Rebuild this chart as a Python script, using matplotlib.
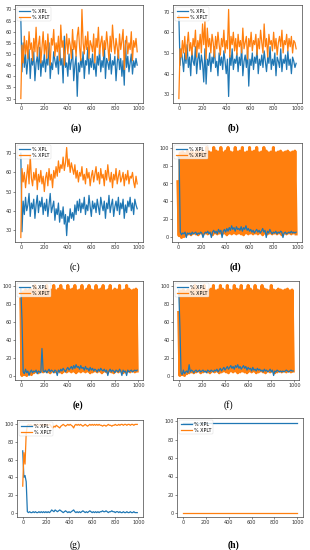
import numpy as np
import matplotlib
matplotlib.use("Agg")
import matplotlib.pyplot as plt

# iteration index (one sample every 10 steps)
steps = np.arange(0, 1000, 10)

a_xpl = [66, 42, 55, 44, 50, 41, 47, 52, 39, 48,
         45, 51, 38, 46, 49, 43, 53, 40, 47, 44,
         50, 42, 48, 45, 55, 39, 46, 43, 51, 47,
         44, 49, 41, 53, 45, 48, 37, 58, 44, 46,
         40, 50, 43, 47, 52, 38, 45, 49, 31, 46,
         42, 48, 44, 51, 39, 47, 45, 53, 41, 48,
         44, 50, 43, 46, 40, 49, 45, 52, 42, 47,
         44, 55, 39, 48, 46, 43, 50, 41, 47, 45,
         49, 38, 46, 51, 43, 48, 40, 47, 36, 56,
         44, 49, 42, 46, 50, 41, 47, 44, 48, 45]
a_xplt = [30, 54, 46, 58, 50, 56, 48, 60, 52, 55,
          47, 57, 51, 62, 49, 54, 58, 46, 53, 60,
          50, 56, 48, 59, 52, 45, 57, 54, 61, 49,
          55, 51, 58, 47, 63, 53, 56, 45, 52, 59,
          50, 57, 54, 48, 61, 52, 56, 49, 58, 62,
          53, 47, 70, 55, 50, 58, 52, 60, 48, 56,
          54, 51, 59, 46, 57, 53, 62, 50, 55, 58,
          49, 56, 52, 60, 54, 47, 58, 51, 63, 55,
          50, 57, 53, 48, 59, 52, 56, 61, 43, 54,
          58, 50, 55, 52, 60, 47, 56, 53, 57, 51]

b_xpl = [68, 44, 52, 47, 41, 50, 45, 54, 43, 48,
         39, 51, 46, 44, 53, 40, 47, 50, 42, 49,
         45, 36, 52, 35, 47, 44, 50, 41, 48, 45,
         53, 43, 46, 39, 50, 44, 48, 42, 51, 46,
         40, 47, 29, 49, 44, 52, 42, 47, 45, 50,
         41, 48, 44, 53, 39, 46, 49, 43, 51, 34,
         47, 44, 50, 42, 48, 45, 52, 40, 47, 44,
         49, 43, 51, 46, 41, 48, 45, 53, 42, 47,
         44, 50, 39, 48, 46, 43, 52, 41, 47, 45,
         49, 42, 51, 44, 47, 40, 48, 46, 43, 45]
b_xplt = [28, 52, 48, 56, 50, 58, 47, 54, 60, 51,
          55, 49, 57, 53, 61, 48, 56, 52, 59, 50,
          64, 54, 65, 47, 62, 53, 57, 50, 59, 55,
          48, 58, 52, 60, 54, 49, 57, 53, 61, 50,
          56, 52, 71, 48, 58, 54, 60, 51, 57, 49,
          59, 53, 56, 50, 62, 52, 55, 58, 47, 57,
          53, 60, 51, 56, 54, 59, 49, 57, 52, 61,
          55, 50, 64, 53, 57, 48, 59, 54, 56, 51,
          60, 52, 57, 49, 55, 58, 53, 61, 50, 56,
          54, 59, 51, 57, 53, 58, 50, 56, 55, 52]

c_xpl = [70, 29, 45, 38, 47, 40, 43, 49, 37, 44,
         41, 46, 36, 43, 48, 39, 45, 42, 47, 38,
         44, 40, 46, 37, 43, 49, 39, 42, 45, 35,
         41, 38, 44, 34, 40, 36, 42, 33, 38, 27,
         37, 34, 41, 36, 39, 35, 43, 38, 45, 40,
         46, 39, 44, 41, 47, 38, 43, 40, 48, 42,
         37, 45, 41, 44, 39, 46, 42, 38, 47, 43,
         40, 45, 36, 44, 41, 48, 39, 43, 46, 37,
         42, 45, 40, 47, 38, 44, 41, 46, 36, 43,
         39, 45, 42, 47, 40, 44, 38, 46, 43, 41]
c_xplt = [26, 62, 55, 60, 52, 58, 64, 54, 69, 57,
          53, 60, 56, 62, 51, 59, 55, 61, 54, 58,
          50, 57, 60, 53, 62, 56, 59, 52, 61, 57,
          63, 58, 66, 60, 64, 62, 68, 61, 65, 73,
          63, 67, 60, 65, 62, 59, 64, 57, 61, 55,
          60, 58, 63, 56, 59, 54, 62, 57, 60, 53,
          58, 61, 55, 59, 63, 56, 60, 54, 62, 57,
          59, 53, 61, 56, 64, 58, 55, 60, 52, 59,
          56, 62, 54, 58, 61, 55, 57, 60, 53, 59,
          56, 61, 54, 58, 57, 60, 55, 52, 58, 54]

d_xpl = [90, 88, 6, 3, 5, 4, 6, 0, 5, 4,
         5, 3, 6, 4, 5, 6, 3, 5, 4, 6,
         5, 0, 4, 6, 5, 7, 4, 6, 0, 6,
         8, 5, 7, 4, 9, 6, 8, 0, 7, 9,
         6, 10, 7, 11, 8, 13, 9, 11, 7, 12,
         9, 10, 8, 12, 7, 11, 9, 13, 8, 10,
         7, 9, 6, 8, 5, 7, 9, 6, 8, 5,
         7, 10, 6, 8, 0, 7, 5, 9, 6, 4,
         6, 5, 7, 4, 6, 5, 7, 6, 0, 5,
         6, 4, 5, 6, 5, 7, 5, 6, 5, 6]
d_xplt = [62, 2, 94, 0, 95, 1, 93, 3, 96, 4,
          94, 3, 95, 5, 93, 4, 96, 3, 94, 5,
          95, 4, 93, 5, 100, 4, 95, 5, 94, 3,
          100, 5, 96, 4, 95, 5, 100, 4, 94, 5,
          96, 3, 100, 5, 95, 4, 94, 5, 100, 4,
          95, 5, 96, 4, 100, 3, 94, 5, 95, 4,
          100, 5, 95, 4, 96, 5, 100, 4, 94, 5,
          95, 3, 100, 5, 96, 4, 94, 5, 95, 4,
          100, 5, 94, 4, 95, 5, 96, 3, 94, 5,
          95, 4, 96, 5, 94, 4, 95, 5, 96, 4]

e_xpl = [97, 62, 4, 2, 7, 3, 5, 0, 4, 6,
         3, 5, 4, 6, 2, 5, 4, 3, 30, 5,
         4, 6, 3, 5, 7, 4, 6, 5, 3, 6,
         5, 0, 6, 4, 7, 5, 8, 6, 4, 7,
         9, 6, 8, 10, 7, 11, 8, 12, 9, 10,
         7, 11, 8, 9, 6, 10, 7, 8, 5, 9,
         6, 8, 5, 7, 6, 4, 7, 5, 8, 6,
         5, 7, 4, 6, 0, 5, 7, 4, 6, 5,
         3, 6, 5, 4, 7, 5, 0, 6, 4, 5,
         0, 6, 4, 5, 6, 4, 5, 6, 5, 6]
e_xplt = [85, 0, 93, 1, 95, 0, 94, 2, 96, 1,
          94, 3, 100, 4, 95, 3, 94, 5, 93, 4,
          95, 5, 100, 4, 94, 3, 95, 5, 100, 4,
          94, 5, 96, 4, 100, 3, 95, 5, 94, 4,
          100, 5, 95, 4, 96, 5, 100, 3, 94, 5,
          95, 4, 100, 5, 94, 4, 96, 5, 100, 3,
          95, 4, 94, 5, 100, 4, 95, 5, 96, 3,
          100, 5, 94, 4, 95, 5, 100, 4, 94, 3,
          96, 5, 95, 4, 100, 5, 94, 3, 95, 4,
          100, 5, 96, 4, 94, 5, 95, 4, 96, 5]

f_xpl = [95, 55, 3, 1, 6, 2, 4, 5, 3, 12,
         4, 6, 5, 3, 5, 6, 4, 5, 6, 4,
         5, 6, 4, 5, 3, 6, 5, 4, 6, 5,
         4, 6, 5, 7, 4, 6, 8, 5, 7, 9,
         6, 8, 10, 7, 9, 11, 8, 10, 7, 11,
         9, 12, 8, 10, 7, 9, 11, 8, 10, 6,
         9, 7, 8, 5, 9, 6, 7, 5, 8, 6,
         7, 5, 6, 4, 7, 5, 6, 4, 5, 7,
         4, 6, 0, 5, 4, 6, 5, 4, 5, 4,
         5, 4, 5, 6, 5, 4, 5, 6, 5, 5]
f_xplt = [70, 0, 94, 1, 95, 0, 93, 2, 95, 3,
          94, 4, 96, 3, 100, 4, 95, 5, 94, 3,
          95, 4, 100, 5, 94, 4, 95, 3, 96, 5,
          100, 4, 94, 5, 95, 3, 100, 4, 96, 5,
          94, 4, 100, 3, 95, 5, 94, 4, 100, 5,
          96, 3, 95, 4, 100, 5, 94, 4, 95, 3,
          100, 5, 96, 4, 94, 5, 100, 3, 95, 4,
          94, 5, 100, 4, 96, 3, 95, 5, 94, 4,
          100, 5, 95, 3, 94, 4, 96, 5, 95, 4,
          94, 5, 95, 4, 96, 5, 94, 4, 95, 5]

g_xpl = [70, 40, 42, 35, 1, 0, 1, 0, 0, 1,
         0, 1, 0, 0, 1, 0, 1, 0, 1, 0,
         1, 0, 1, 0, 1, 3, 2, 1, 3, 2,
         1, 2, 3, 2, 1, 0, 1, 2, 1, 0,
         1, 0, 1, 2, 3, 1, 0, 1, 0, 1,
         0, 1, 2, 1, 0, 1, 0, 1, 2, 1,
         0, 1, 0, 1, 0, 1, 0, 1, 1, 2,
         1, 1, 2, 1, 0, 1, 1, 2, 1, 1,
         0, 1, 1, 0, 1, 0, 0, 1, 0, 0,
         1, 0, 0, 1, 0, 0, 1, 0, 0, 0]
g_xplt = [30, 68, 55, 90, 99, 100, 99, 100, 98, 99,
          100, 99, 100, 100, 99, 100, 99, 100, 99, 100,
          99, 100, 99, 100, 99, 97, 96, 98, 97, 99,
          98, 97, 96, 98, 99, 100, 99, 98, 99, 100,
          99, 100, 99, 98, 96, 99, 100, 99, 100, 99,
          100, 99, 98, 99, 100, 99, 98, 99, 100, 99,
          100, 99, 100, 99, 100, 99, 100, 99, 99, 98,
          99, 99, 98, 99, 100, 99, 99, 98, 99, 99,
          100, 99, 99, 100, 99, 100, 100, 99, 100, 100,
          99, 100, 100, 99, 100, 100, 99, 100, 100, 100]

# (h) is flat: only the two ends are needed
h_steps = [0, 999]
h_xpl = [98.5, 98.5]
h_xplt = [1, 1]

xticks = [0, 200, 400, 600, 800, 1000]

# panel: x, xpl, xplt, yticks, rect px (left, top, right, bottom), label, label pos px, bold, dense
panels = [
    (steps, a_xpl, a_xplt, range(30, 71, 5), (15, 5, 143, 103), "(a)", (76, 128), True, False),
    (steps, b_xpl, b_xplt, range(30, 71, 10), (173, 5, 302, 103), "(b)", (233, 128), True, False),
    (steps, c_xpl, c_xplt, range(30, 71, 10), (15, 143, 143, 242), "(c)", (75, 267), False, False),
    (steps, d_xpl, d_xplt, range(0, 101, 20), (172, 143, 302, 242), "(d)", (235, 267), True, True),
    (steps, e_xpl, e_xplt, range(0, 101, 20), (15, 281, 143, 380), "(e)", (78, 405), True, True),
    (steps, f_xpl, f_xplt, range(0, 101, 20), (173, 281, 299, 380), "(f)", (228, 405), False, True),
    (steps, g_xpl, g_xplt, range(0, 101, 20), (17, 420, 143, 517), "(g)", (75, 545), False, False),
    (h_steps, h_xpl, h_xplt, range(0, 101, 20), (177, 418, 303, 517), "(h)", (233, 545), True, False),
]

W, H = 310, 550
fig = plt.figure(figsize=(W / 100, H / 100), dpi=100)

for x, xpl, xplt, yt, (l, t, r, b), lab, (lx, ly), bold, dense in panels:
    ax = fig.add_axes([l / W, 1 - b / H, (r - l) / W, (b - t) / H])
    if dense:
        # orange swings so fast it fills the box; blue band shows on top
        ax.plot(x, xpl, color='#1f77b4', lw=0.9, label='% XPL', zorder=3)
        ax.plot(x, xplt, color='#ff7f0e', lw=2.2, label='% XPLT', zorder=2)
    else:
        ax.plot(x, xpl, color='#1f77b4', lw=0.9, label='% XPL')
        ax.plot(x, xplt, color='#ff7f0e', lw=0.9, label='% XPLT')
    ax.set_xticks(xticks)
    ax.set_yticks(list(yt))
    ax.tick_params(labelsize=3.5, length=1.5, width=0.4, pad=1, colors='#333333')
    for s in ax.spines.values():
        s.set_linewidth(0.5)
        s.set_color('#444444')
    leg = ax.legend(loc='upper left', fontsize=3.5, handlelength=2.2, borderpad=0.3,
                    labelspacing=0.2, handletextpad=0.5, framealpha=0.8, fancybox=True)
    leg.get_frame().set_linewidth(0.3)
    for h in leg.get_lines():
        h.set_linewidth(0.9)
    fig.text(lx / W, 1 - ly / H, lab, ha='center', va='center', fontsize=7,
             family='Liberation Serif', fontweight='bold' if bold else 'normal')

fig.savefig('out.png', dpi=100)
